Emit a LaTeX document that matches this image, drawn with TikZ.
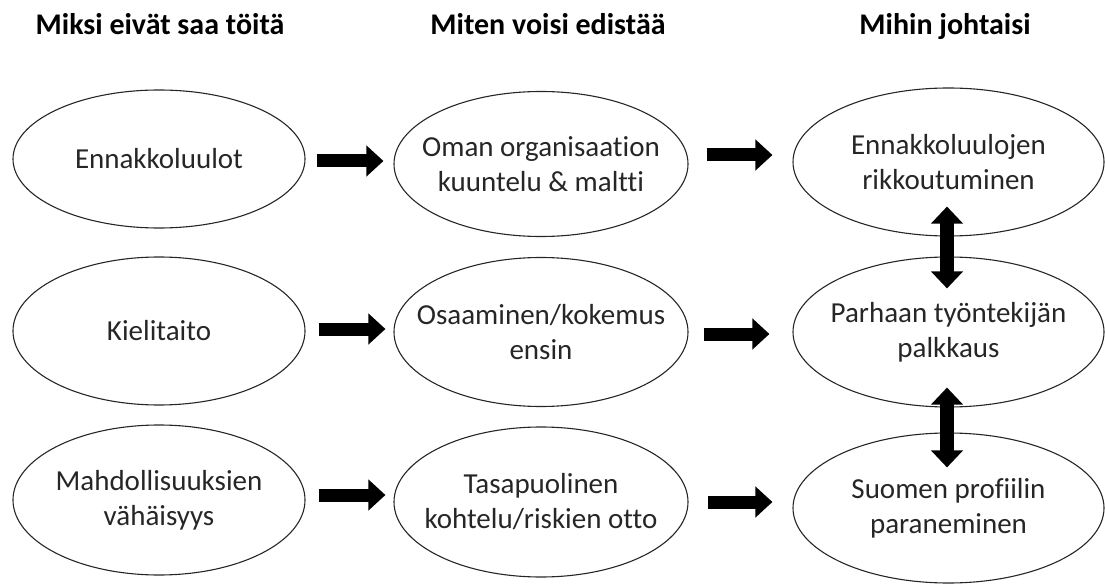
\documentclass[tikz,border=0pt]{standalone}
\usepackage{fontspec}
\setmainfont{Carlito}[Ligatures=CommonOff]
\usetikzlibrary{shapes.geometric,arrows.meta}
\begin{document}
\begin{tikzpicture}[x=1pt,y=-1pt,
  oval/.style={draw=black!85,line width=1.1pt,ellipse,inner sep=0pt},
  lbl/.style={align=center,font=\fontsize{29}{35}\selectfont,text=black!85},
  head/.style={anchor=base,font=\bfseries\fontsize{30}{34}\selectfont},
  barrow/.style={line width=13pt,-{Triangle[width=30pt,length=17pt]}},
  darrow/.style={line width=14pt,{Triangle[width=31pt,length=17pt]}-{Triangle[width=31pt,length=17pt]}}]
\useasboundingbox (0,0) rectangle (1105,585);
\node[head] (h1) at (160,35) {Miksi eivät saa töitä};
\node[head] (h2) at (548,35) {Miten voisi edistää};
\node[head] (h3) at (945,35) {Mihin johtaisi};
% left column
\node[oval,minimum width=292pt,minimum height=138pt,label={[lbl]center:Ennakkoluulot}] (L1) at (159,159) {};
\node[oval,minimum width=292pt,minimum height=148pt,label={[lbl]center:Kielitaito}] (L2) at (159,331) {};
\node[oval,minimum width=292pt,minimum height=150pt,label={[lbl]center:{Mahdollisuuksien\\vähäisyys}}] (L3) at (159,500) {};
% middle column
\node[oval,minimum width=294pt,minimum height=145pt,label={[lbl]center:{Oman organisaation\\kuuntelu \& maltti}}] (M1) at (541,164) {};
\node[oval,minimum width=294pt,minimum height=149pt,label={[lbl]center:{Osaaminen/kokemus\\ensin}}] (M2) at (541,332) {};
\node[oval,minimum width=294pt,minimum height=150pt,label={[lbl]center:{Tasapuolinen\\kohtelu/riskien otto}}] (M3) at (541,502) {};
% right column
\node[oval,minimum width=311pt,minimum height=148pt,label={[lbl]center:{Ennakkoluulojen\\rikkoutuminen}}] (R1) at (948.5,162) {};
\node[oval,minimum width=311pt,minimum height=150pt,label={[lbl]center:{Parhaan työntekijän\\palkkaus}}] (R2) at (948.5,332) {};
\node[oval,minimum width=311pt,minimum height=150pt,label={[lbl]center:{Suomen profiilin\\paraneminen}}] (R3) at (948.5,508) {};
% horizontal arrows
\draw[barrow,shorten <=11pt,shorten >=10pt] ([yshift=-2pt]L1.east) -- ([yshift=-2pt]L1.east -| M1.west);
\draw[barrow,shorten <=18pt,shorten >=20pt] ([yshift=9pt]M1.east) -- ([yshift=9pt]M1.east -| R1.west);
\draw[barrow,shorten <=13pt,shorten >=8pt] ([yshift=2pt]L2.east) -- ([yshift=2pt]L2.east -| M2.west);
\draw[barrow,shorten <=15pt,shorten >=23pt] ([yshift=-2pt]M2.east) -- ([yshift=-2pt]M2.east -| R2.west);
\draw[barrow,shorten <=13pt,shorten >=8pt] ([yshift=5pt]L3.east) -- ([yshift=5pt]L3.east -| M3.west);
\draw[barrow,shorten <=19pt,shorten >=20pt] (M3.east) -- (M3.east -| R3.west);
% vertical double arrows
\draw[darrow,shorten <=-30pt,shorten >=-32pt] ([xshift=-1.5pt]R1.south) -- ([xshift=-1.5pt]R2.north);
\draw[darrow,shorten <=-20pt,shorten >=-35pt] ([xshift=-1.5pt]R2.south) -- ([xshift=-1.5pt]R3.north);
\end{tikzpicture}
\end{document}
